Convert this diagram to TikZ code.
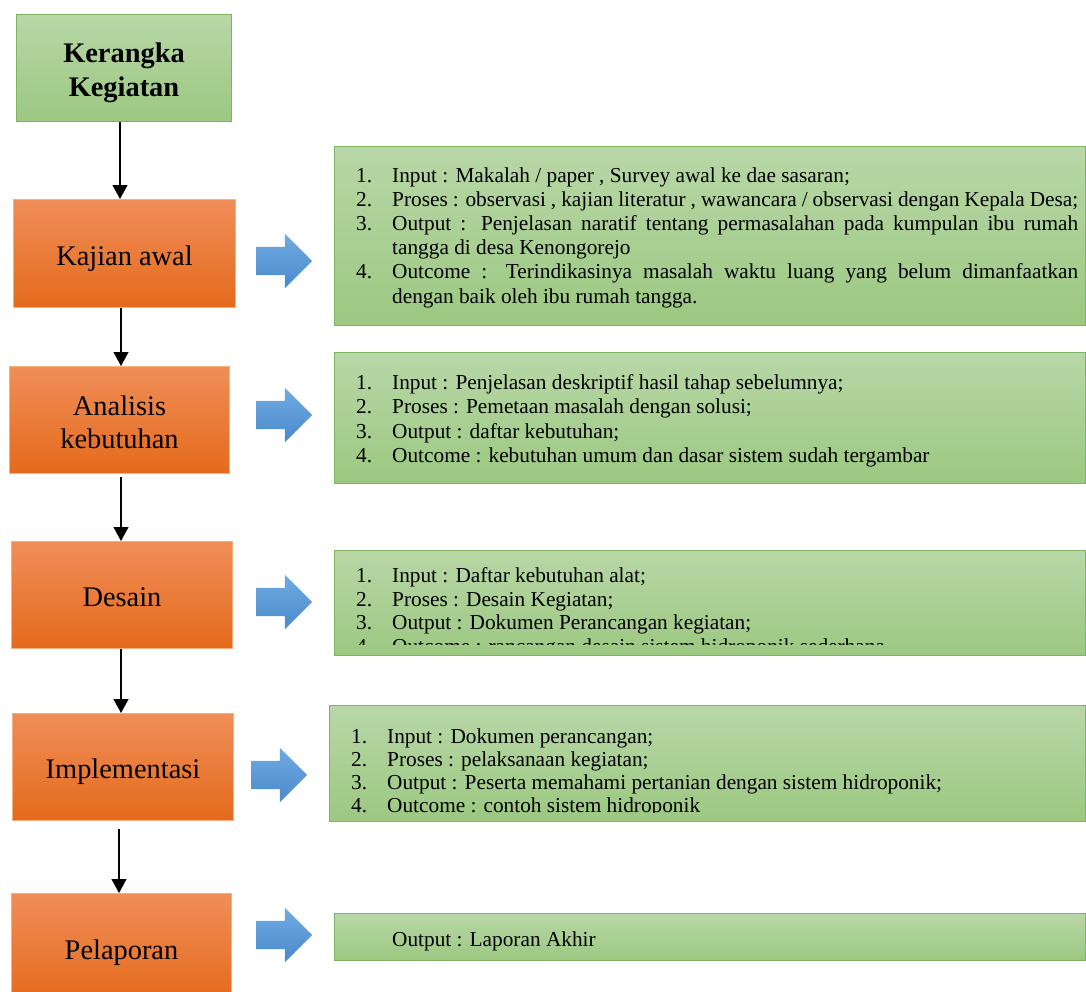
\documentclass[tikz,border=0pt]{standalone}
\usepackage{fontspec}
\setmainfont{Liberation Serif}
\usetikzlibrary{shapes.arrows,arrows.meta}
\definecolor{gtop}{RGB}{184,215,167}
\definecolor{gbot}{RGB}{156,200,129}
\definecolor{gborder}{RGB}{128,180,98}
\definecolor{otop}{RGB}{240,142,88}
\definecolor{obot}{RGB}{228,106,28}
\definecolor{oborder}{RGB}{247,175,128}
\definecolor{btop}{RGB}{112,170,224}
\definecolor{bbot}{RGB}{74,138,204}
\newcommand{\itm}[2]{\hangindent=36pt\hangafter=1\noindent\makebox[36pt][l]{#1}#2\par}
\newcommand{\smallfont}[1]{\fontsize{21.3}{#1}\selectfont}
\newcommand{\twolines}[2]{\begin{tabular}[t]{@{}c@{}}#1\\#2\end{tabular}}
\begin{document}
\begin{tikzpicture}[x=1pt,y=-1pt,
  gbox/.style={draw=gborder, line width=1pt, top color=gtop, bottom color=gbot, anchor=north west, inner sep=0pt},
  obox/.style={draw=oborder, line width=1pt, top color=otop, bottom color=obot, anchor=north west, inner sep=0pt, font=\fontsize{28.4}{33}\selectfont, text height=23pt, text depth=0pt},
  twoline/.style={text height=0pt, text depth=10pt},
  barrow/.style={single arrow, draw=none, top color=btop, bottom color=bbot, minimum height=56pt, minimum width=54pt, single arrow head extend=13pt, inner sep=14pt},
  conn/.style={line width=1.2pt, -{Triangle[width=15pt,length=14pt]}},
  txt/.style={anchor=base west, inner sep=0pt}]
\useasboundingbox (0,0) rectangle (1086,991);

% left column
\node[gbox, minimum width=215pt, minimum height=107pt, font=\fontsize{28.4}{34}\selectfont\bfseries, text height=0pt, text depth=12pt] (top) at (16,14) {\twolines{Kerangka}{Kegiatan}};
\node[obox, minimum width=222pt, minimum height=108pt] (kaj) at (13,199) {Kajian awal};
\node[obox, twoline, minimum width=220pt, minimum height=107pt] (ana) at (9,366) {\twolines{Analisis}{kebutuhan}};
\node[obox, minimum width=221pt, minimum height=107pt] (des) at (11,541) {Desain};
\node[obox, minimum width=221pt, minimum height=107pt] (imp) at (12,713) {Implementasi};
\node[obox, minimum width=220pt, minimum height=108pt] (pel) at (11,893) {Pelaporan};

\draw[conn] (top.south -| 120,0) -- (kaj.north -| 120,0);
\draw[conn] (kaj.south -| 121,0) -- (ana.north -| 121,0);
\draw[conn, shorten <=3pt] (ana.south -| 121,0) -- (des.north -| 121,0);
\draw[conn] (des.south -| 121,0) -- (imp.north -| 121,0);
\draw[conn, shorten <=8pt] (imp.south -| 119,0) -- (pel.north -| 119,0);

% blue arrows
\node[barrow] (b1) at (277,261) {};
\node[barrow] (b2) at (277,415) {};
\node[barrow] (b3) at (277,602) {};
\node[barrow] (b4) at (272,775) {};
\node[barrow] (b5) at (277,935) {};

% green boxes
\node[gbox, minimum width=751pt, minimum height=179pt] (g1) at (334,146) {};
\node[gbox, minimum width=751pt, minimum height=131pt] (g2) at (334,352) {};
\node[gbox, minimum width=751pt, minimum height=105pt] (g3) at (334,550) {};
\node[gbox, minimum width=756pt, minimum height=116pt] (g4) at (329,705) {};
\node[gbox, minimum width=751pt, minimum height=47pt] (g5) at (334,913) {};

\node[txt] (t1) at (356,182.5) {\parbox[t]{722pt}{\smallfont{24.1}%
\itm{1.}{Input : Makalah / paper , Survey awal ke dae sasaran;}
\itm{2.}{Proses : observasi , kajian literatur , wawancara / observasi dengan Kepala Desa;}
\itm{3.}{Output : Penjelasan naratif tentang permasalahan pada kumpulan ibu rumah\linebreak tangga di desa Kenongorejo}
\itm{4.}{Outcome : Terindikasinya masalah waktu luang yang belum dimanfaatkan\linebreak dengan baik oleh ibu rumah tangga.}}};

\node[txt] (t2) at (356,389.5) {\parbox[t]{722pt}{\smallfont{24.3}%
\itm{1.}{Input : Penjelasan deskriptif hasil tahap sebelumnya;}
\itm{2.}{Proses : Pemetaan masalah dengan solusi;}
\itm{3.}{Output : daftar kebutuhan;}
\itm{4.}{Outcome : kebutuhan umum dan dasar sistem sudah tergambar}}};

\begin{scope}
\clip (334,550) rectangle (1085,644.5);
\node[txt] (t3) at (356,582.5) {\parbox[t]{722pt}{\smallfont{23.5}%
\itm{1.}{Input : Daftar kebutuhan alat;}
\itm{2.}{Proses : Desain Kegiatan;}
\itm{3.}{Output : Dokumen Perancangan kegiatan;}
\itm{4.}{Outcome : rancangan desain sistem hidroponik sederhana}}};
\end{scope}

\begin{scope}
\clip (329,705) rectangle (1085,812);
\node[txt] (t4) at (351,743) {\parbox[t]{722pt}{\smallfont{23.3}%
\itm{1.}{Input : Dokumen perancangan;}
\itm{2.}{Proses : pelaksanaan kegiatan;}
\itm{3.}{Output : Peserta memahami pertanian dengan sistem hidroponik;}
\itm{4.}{Outcome : contoh sistem hidroponik}}};
\end{scope}

\node[txt, font=\smallfont{24}] (t5) at (392,946) {Output : Laporan Akhir};
\end{tikzpicture}
\end{document}
